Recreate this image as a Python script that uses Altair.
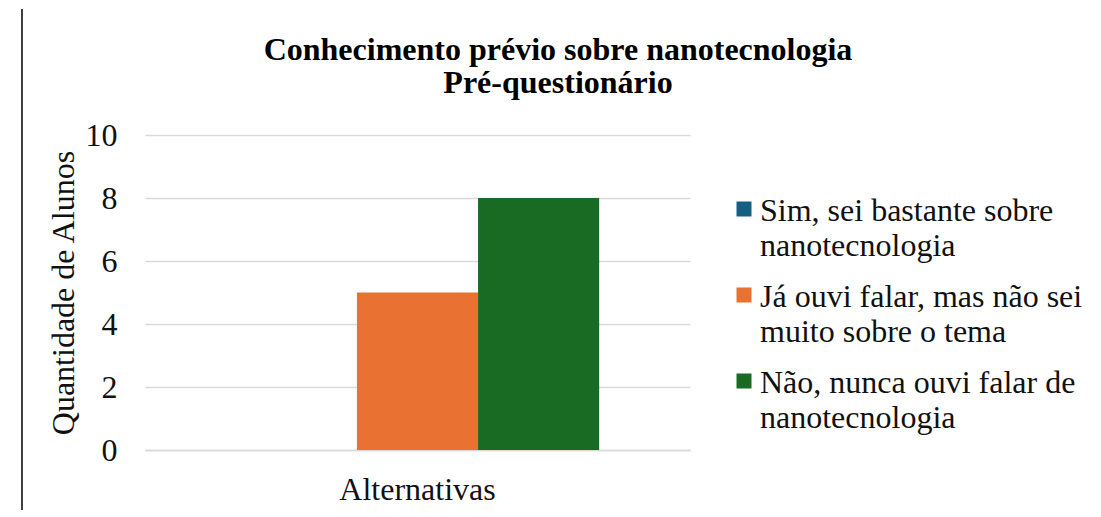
import altair as alt
import pandas as pd

# ---- data ----
category = ["Alternativas", "Alternativas", "Alternativas"]
series = [
    "Sim, sei bastante sobre\nnanotecnologia",
    "Já ouvi falar, mas não sei\nmuito sobre o tema",
    "Não, nunca ouvi falar de\nnanotecnologia",
]
values = [0, 5, 8]
colors = ["#156082", "#E97132", "#196B24"]
title_lines = ["Conhecimento prévio sobre nanotecnologia", "Pré-questionário"]
y_ticks = [0, 2, 4, 6, 8, 10]

FONT = "Liberation Serif"
TXT = "#111111"
GRID = "#d9d9d9"
FS = 32

df = pd.DataFrame({"cat": category, "serie": series, "val": values, "idx": [0, 1, 2]})

color_scale = alt.Scale(domain=series, range=colors)

bars = alt.Chart(df).mark_bar().encode(
    x=alt.X("cat:N", title=None,
            scale=alt.Scale(paddingInner=0, paddingOuter=0.25),
            axis=alt.Axis(labelFontSize=FS, labelFont=FONT, labelColor=TXT,
                          labelAngle=0, labelPadding=24, ticks=False, tickSize=0,
                          domainColor=GRID, domainWidth=1.5, grid=False)),
    xOffset=alt.XOffset("serie:N", sort=series,
                        scale=alt.Scale(paddingInner=0, paddingOuter=0)),
    y=alt.Y("val:Q", title="Quantidade de Alunos",
            scale=alt.Scale(domain=[0, 10], nice=False),
            axis=alt.Axis(values=y_ticks, labelFontSize=FS, labelFont=FONT,
                          labelColor=TXT, labelPadding=28, ticks=False, tickSize=0,
                          domain=False, grid=True, gridColor=GRID, gridWidth=1.5,
                          titleFontSize=FS, titleFont=FONT, titleFontWeight="normal",
                          titleColor=TXT, titlePadding=5)),
    color=alt.Color("serie:N", scale=color_scale, legend=None),
)

leg_y = alt.Y("idx:O", axis=None, scale=alt.Scale(range=[74, 246], padding=0))

leg_sq = alt.Chart(df).mark_square(size=225, opacity=1).encode(
    x=alt.value(599),
    y=leg_y,
    color=alt.Color("serie:N", scale=color_scale, legend=None),
)

leg_txt = alt.Chart(df).mark_text(
    align="left", baseline="alphabetic", dy=12, lineBreak="\n", lineHeight=35,
    fontSize=FS, font=FONT, color=TXT,
).encode(
    x=alt.value(615),
    y=leg_y,
    text="serie:N",
)

tdf = pd.DataFrame({"t": ["\n".join(title_lines)]})
title = alt.Chart(tdf).mark_text(
    align="center", baseline="alphabetic", lineBreak="\n", lineHeight=33,
    fontSize=32, font=FONT, fontWeight="bold", color="#000000",
).encode(x=alt.value(413), y=alt.value(-75), text="t:N")

border = alt.Chart(pd.DataFrame({"a": [0]})).mark_rule(color="#000000", strokeWidth=1.5).encode(
    x=alt.value(-123), y=alt.value(-126), y2=alt.value(375)
)

chart = alt.layer(bars, leg_sq, leg_txt, title, border).resolve_scale(
    y="independent"
).properties(
    width=545, height=315,
    padding={"left": 13, "top": 0, "right": 5, "bottom": 0},
).configure_view(stroke=None)

chart.save("out.html", embed_options={"renderer": "svg", "actions": False})
